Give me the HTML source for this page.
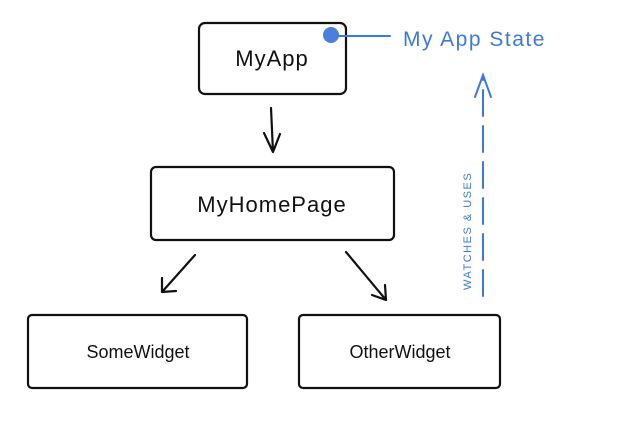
<!DOCTYPE html>
<html><head><style>body{margin:0;background:#fff}</style></head><body>
<svg width="634" height="431" xmlns="http://www.w3.org/2000/svg" style="display:block">
<g fill="none" stroke="#111" stroke-width="2.2" stroke-linecap="round" stroke-linejoin="round">
<rect x="199" y="23" width="147" height="71" rx="6"/>
<rect x="151" y="167" width="243" height="73" rx="5"/>
<rect x="28" y="315" width="219" height="73" rx="4"/>
<rect x="299" y="315" width="201" height="73" rx="4"/>
<path d="M271 108 L273 152 M264 133 L273 152 L280 134"/>
<path d="M195 255 L162 292 M162 278 L162 292 L176 291"/>
<path d="M346 252 L386 300 M372 295 L386 300 L385 285"/>
</g>
<g font-family="'Liberation Sans',sans-serif" font-size="22" text-anchor="middle" fill="#111">
<text x="272" y="66" letter-spacing="1">MyApp</text>
<text x="272" y="212" letter-spacing="1">MyHomePage</text>
<text x="138" y="358" font-size="18">SomeWidget</text>
<text x="400" y="358" font-size="18">OtherWidget</text>
</g>
<circle cx="331" cy="35" r="8" fill="#4a7fe0"/>
<g stroke="#3b78e7" stroke-width="2" fill="none" stroke-linecap="round">
<path d="M338 36 L390 36"/>
<path d="M483 296 L483 75" stroke-dasharray="26 10"/>
<path d="M475 97 L483 75 L491 97"/>
</g>
<text x="403" y="46" font-family="'Liberation Sans',sans-serif" font-size="21" fill="#3b78e7" letter-spacing="1.5">My App State</text>
<text transform="translate(471,290) rotate(-90)" font-family="'Liberation Sans',sans-serif" font-size="11" fill="#3b78e7" letter-spacing="1.5">WATCHES &amp; USES</text>
</svg>
</body></html>
